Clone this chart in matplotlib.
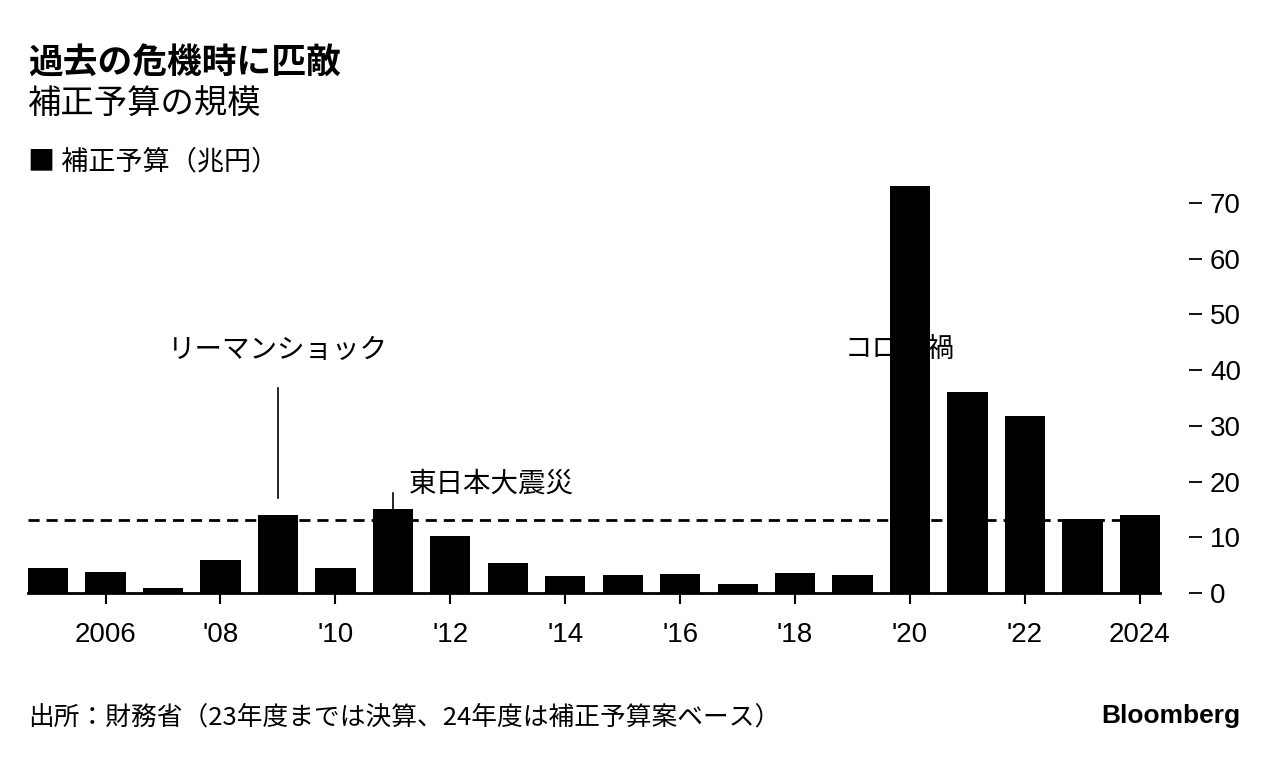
import matplotlib
matplotlib.use("Agg")
import matplotlib.pyplot as plt

years = list(range(2005, 2025))
budget = [4.5, 3.8, 0.9, 5.9, 14.0, 4.4, 15.0, 10.2, 5.4, 3.1,
          3.3, 3.5, 1.7, 3.6, 3.2, 73.1, 36.0, 31.7, 13.3, 14.0]
ref_level = 13.1
xtick_years = list(range(2006, 2025, 2))
xtick_labels = ["2006", "'08", "'10", "'12", "'14", "'16", "'18", "'20", "'22", "2024"]
yticks = [0, 10, 20, 30, 40, 50, 60, 70]

title = "過去の危機時に匹敵"
subtitle = "補正予算の規模"
legend_label = "補正予算（兆円）"
source = "出所：財務省（23年度までは決算、24年度は補正予算案ベース）"
annotations = [
    ("リーマンショック", 2009, 43.6, 2009, 36.8, 17.1, "center"),
    ("東日本大震災", 2011.28, 19.6, 2011, 18.0, 15.0, "left"),
]

JP = ["Noto Sans CJK JP", "DejaVu Sans"]
NUM = ["Liberation Sans", "Noto Sans CJK JP"]

W, H = 1279, 760
fig = plt.figure(figsize=(W / 100, H / 100), dpi=100)
left, right = 28 / W, 1160 / W
ymax = 74
ppu = 5.57
bottom_px = 593
top_px = bottom_px - ymax * ppu
ax = fig.add_axes([left, 1 - bottom_px / H, right - left, (bottom_px - top_px) / H])

ax.bar(years, budget, width=0.7, color="black", zorder=3)
ax.axhline(ref_level, color="black", lw=2, ls=(0, (4, 2.5)), zorder=4)

ax.set_xlim(2004.65, 2024.35)
ax.set_ylim(0, ymax)

for sp in ["top", "left", "right"]:
    ax.spines[sp].set_visible(False)
ax.spines["bottom"].set_linewidth(2)
ax.spines["bottom"].set_zorder(5)

ax.yaxis.tick_right()
ax.spines["right"].set_position(("outward", 21))
ax.set_yticks(yticks)
ax.set_yticklabels([str(v) for v in yticks], family=NUM, fontsize=20)
ax.tick_params(axis="y", length=9, width=1.3, pad=6, color="black")

ax.set_xticks(xtick_years)
ax.set_xticklabels(xtick_labels, family=NUM, fontsize=20)
ax.tick_params(axis="x", length=8, width=1.5, pad=13, color="black")

for text, tx, ty, lx, ly0, ly1, ha in annotations:
    ax.text(tx, ty, text, ha=ha, va="center", fontsize=19.8, family=JP, zorder=6)
    ax.plot([lx, lx], [ly0, ly1], color="black", lw=1.2, zorder=6)

ax.text(2018.86, 43.8, "コロナ禍", ha="left", va="center", fontsize=19.8, family=JP, zorder=1)

fig.text(28 / W, 1 - 62 / H, title, fontsize=25, fontweight="bold", family=JP, va="center", ha="left")
fig.text(28 / W, 1 - 104 / H, subtitle, fontsize=24, family=JP, va="center", ha="left")
fig.text(28 / W, 1 - 162 / H, "■ " + legend_label, fontsize=19.5, family=JP, va="center", ha="left")
fig.text(28 / W, 1 - 718 / H, source, fontsize=18.5, family=JP, va="center", ha="left")
fig.text(1240 / W, 1 - 716 / H, "Bloomberg", fontsize=19, fontweight="bold", family=NUM, va="center", ha="right")

fig.savefig("out.png", dpi=100)
